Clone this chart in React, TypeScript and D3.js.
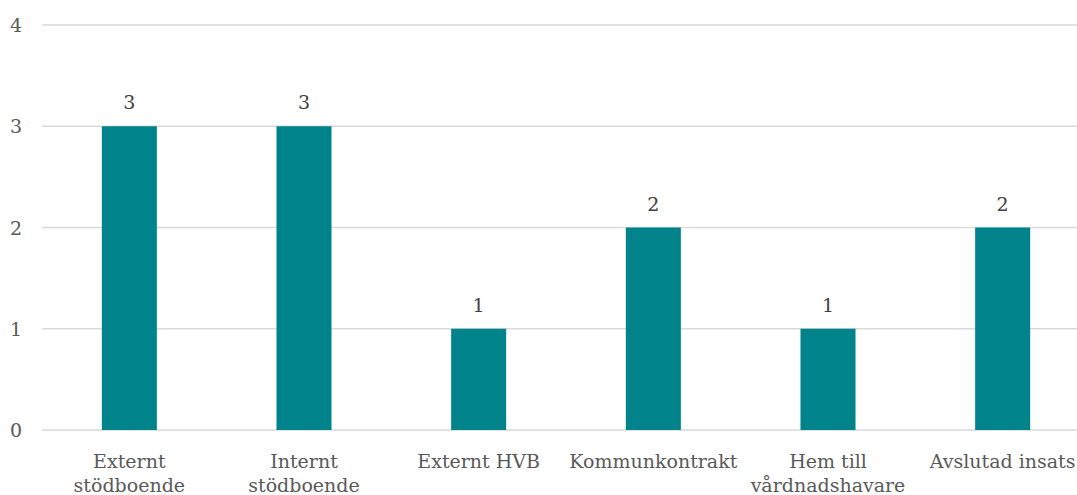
import React, { useRef, useEffect } from 'react'
import * as d3 from 'd3'

const categories = ['Externt stödboende', 'Internt stödboende', 'Externt HVB', 'Kommunkontrakt', 'Hem till vårdnadshavare', 'Avslutad insats']
const labelLines = [['Externt', 'stödboende'], ['Internt', 'stödboende'], ['Externt HVB'], ['Kommunkontrakt'], ['Hem till', 'vårdnadshavare'], ['Avslutad insats']]
const values = [3, 3, 1, 2, 1, 2]
const yTicks = [0, 1, 2, 3, 4]

const FONT = "DejaVu Serif"

const App = () => {
    const visEl = useRef<HTMLDivElement>(null)
    const width = 1077
    const height = 495

    useEffect(() => {
        const root = d3.select(visEl.current)
        root.selectAll('*').remove()
        const svg = root.append('svg')
            .attr('width', width)
            .attr('height', height)
            .style('position', 'absolute')
            .style('left', 0)
            .style('top', 0)

        const xScale = d3.scaleBand<string>()
            .domain(categories)
            .range([42, 1090])
            .paddingInner(0.685)
            .paddingOuter(0.3425)

        const yScale = d3.scaleLinear().domain([0, 4]).range([430, 25])

        // gridlines
        svg.append('g').selectAll('line').data(yTicks).enter().append('line')
            .attr('x1', 42)
            .attr('x2', 1090)
            .attr('y1', d => yScale(d))
            .attr('y2', d => yScale(d))
            .attr('stroke', '#d9d9d9')
            .attr('stroke-width', 1.5)

        svg.append('g').selectAll('text').data(yTicks).enter().append('text')
            .attr('x', 22)
            .attr('y', d => yScale(d) + 7)
            .attr('text-anchor', 'end')
            .style('font-family', FONT)
            .attr('fill', '#595959')
            .attr('font-size', 19)
            .text(d => d)

        svg.append('g').selectAll('rect').data(values).enter().append('rect')
            .attr('x', (d, i) => xScale(categories[i])!)
            .attr('width', xScale.bandwidth())
            .attr('y', d => yScale(d))
            .attr('height', d => yScale(0) - yScale(d))
            .attr('fill', '#00838a')

        svg.append('g').selectAll('text').data(values).enter().append('text')
            .attr('x', (d, i) => xScale(categories[i])! + xScale.bandwidth() / 2)
            .attr('y', d => yScale(d) - 17)
            .attr('text-anchor', 'middle')
            .style('font-family', FONT)
            .attr('fill', '#404040')
            .attr('font-size', 19)
            .text(d => d)

        const labels = svg.append('g').selectAll('text').data(categories).enter().append('text')
            .attr('text-anchor', 'middle')
            .style('font-family', FONT)
            .attr('fill', '#595959')
            .attr('font-size', 19)
            .attr('x', d => xScale(d)! + xScale.bandwidth() / 2)
            .attr('y', 468)
        labels.each(function (d, i) {
            const t = d3.select(this)
            labelLines[i].forEach((line, j) => {
                t.append('tspan')
                    .attr('x', xScale(d)! + xScale.bandwidth() / 2)
                    .attr('dy', j === 0 ? 0 : 24)
                    .text(line)
            })
        })
    }, [])

    return <div ref={visEl}></div>
}

export default App
